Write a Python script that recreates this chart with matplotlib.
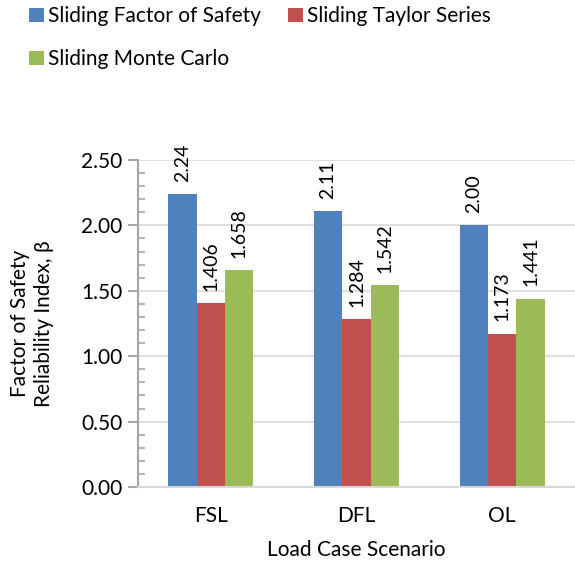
import numpy as np
from matplotlib import pyplot as plt
from matplotlib.ticker import MultipleLocator

plt.rcParams['font.family'] = ['Lato', 'DejaVu Sans']

scenarios = ['FSL', 'DFL', 'OL']
series_names = ['Sliding Factor of Safety', 'Sliding Taylor Series', 'Sliding Monte Carlo']
factor_of_safety = [2.24, 2.11, 2.00]
taylor_series = [1.406, 1.284, 1.173]
monte_carlo = [1.658, 1.542, 1.441]
label_formats = ['{:.2f}', '{:.3f}', '{:.3f}']
colors = ['#4F81BD', '#C0504D', '#9BBB59']

values = [factor_of_safety, taylor_series, monte_carlo]

fig = plt.figure(figsize=(5.75, 5.67), dpi=100)
ax = fig.add_axes([0.240, 0.1411, 0.760, 0.5767])

x = np.arange(len(scenarios))
width = 0.195
handles = []
for i, (vals, name, col, fmt) in enumerate(zip(values, series_names, colors, label_formats)):
    bars = ax.bar(x + (i - 1) * width, vals, width, color=col, label=name, zorder=2)
    handles.append(bars)
    for b, v in zip(bars, vals):
        ax.annotate(fmt.format(v), (b.get_x() + b.get_width() / 2, v),
                    xytext=(0, 9), textcoords='offset points',
                    rotation=90, ha='center', va='bottom', fontsize=14)

ax.set_xlim(-0.5, 2.5)
ax.set_ylim(0, 2.5)
ax.yaxis.set_major_locator(MultipleLocator(0.5))
ax.yaxis.set_minor_locator(MultipleLocator(0.1))
ax.yaxis.set_major_formatter(plt.FuncFormatter(lambda v, p: '{:.2f}'.format(v)))
ax.set_xticks(x)
ax.set_xticklabels(scenarios)
ax.grid(axis='y', color='#D9D9D9', linewidth=1.2, zorder=0)
ax.set_axisbelow(True)

for s in ['top', 'right']:
    ax.spines[s].set_visible(False)
ax.spines['left'].set_color('#A6A6A6')
ax.spines['left'].set_linewidth(1.5)
ax.spines['bottom'].set_color('#D9D9D9')
ax.spines['bottom'].set_linewidth(1.5)
ax.tick_params(axis='y', which='major', direction='out', length=7, width=1.5,
               color='#A6A6A6', labelsize=15, pad=4)
ax.tick_params(axis='y', which='minor', direction='in', length=5, width=1.2, color='#A6A6A6')
ax.tick_params(axis='x', length=0, labelsize=15, pad=14)

ax.set_xlabel('Load Case Scenario', fontsize=15, labelpad=10)
ax.set_ylabel('Factor of Safety\nReliability Index, \u03b2', fontsize=15, labelpad=20)

# legend fills column-wise, so reorder to read row by row
order = [0, 2, 1]
fig.legend([handles[k] for k in order], [series_names[k] for k in order],
           loc='upper left', bbox_to_anchor=(0.018, 1.022), ncol=2, frameon=False,
           fontsize=15, handlelength=0.7, handleheight=0.7, handletextpad=0.2,
           columnspacing=1.3, labelspacing=1.1)

fig.savefig('out.png', dpi=100)
